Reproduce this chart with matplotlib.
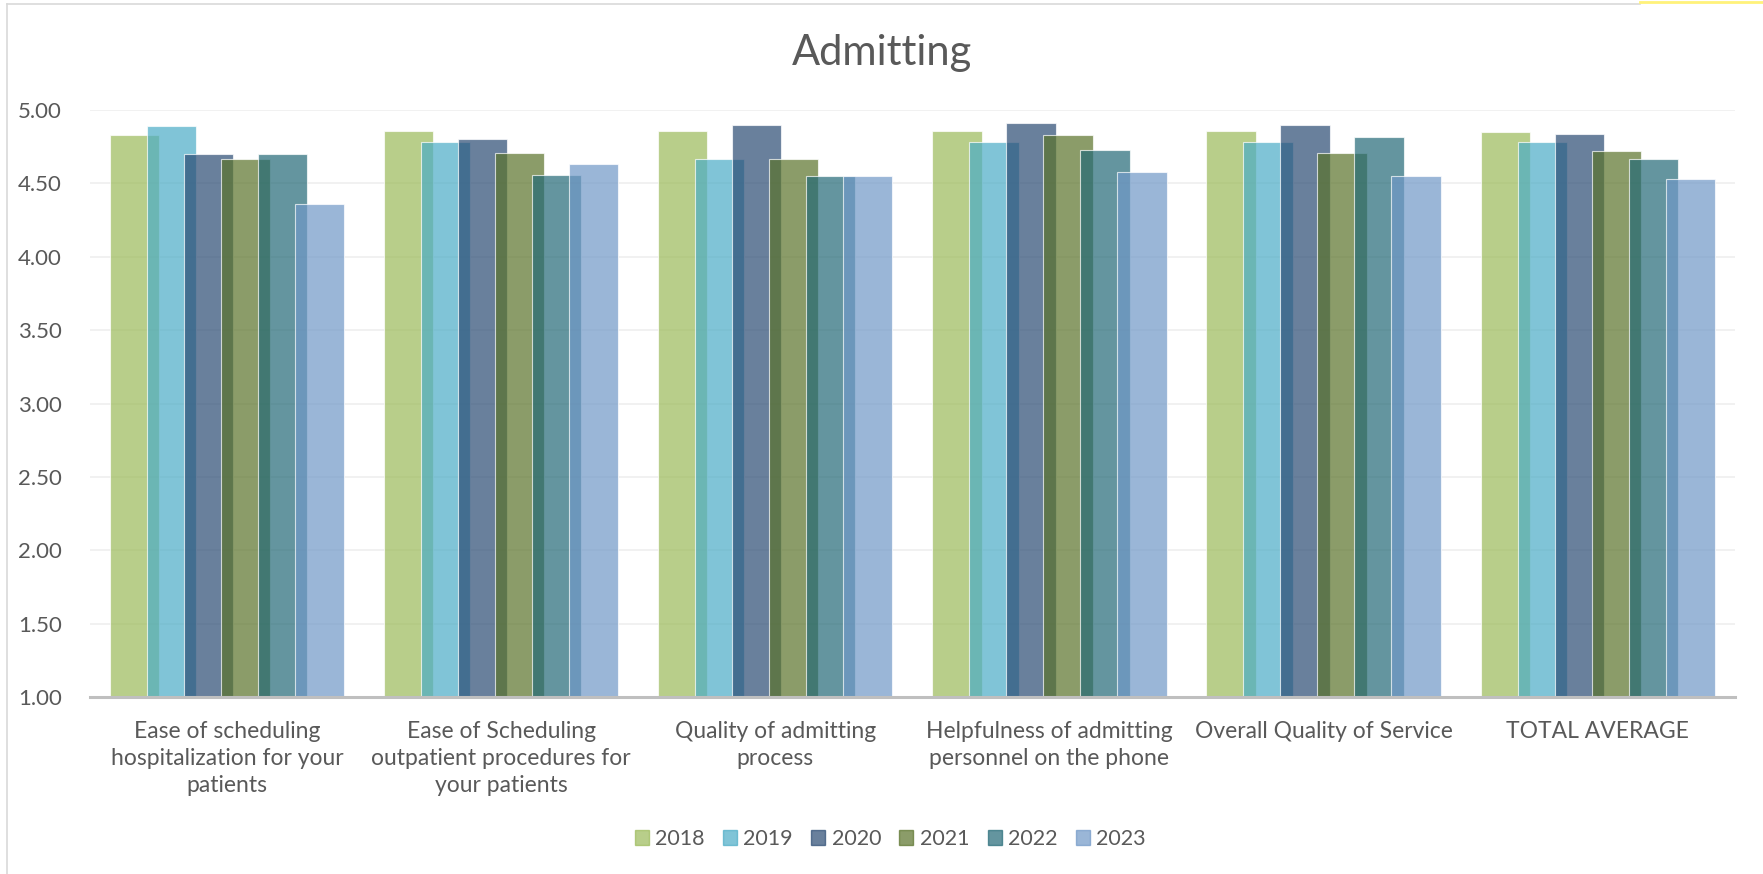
import numpy as np
import matplotlib
matplotlib.use("Agg")
import matplotlib.pyplot as plt
from matplotlib.lines import Line2D

plt.rcParams['font.family'] = ['Lato', 'DejaVu Sans']

categories = [
    "Ease of scheduling\nhospitalization for your\npatients",
    "Ease of Scheduling\noutpatient procedures for\nyour patients",
    "Quality of admitting\nprocess",
    "Helpfulness of admitting\npersonnel on the phone",
    "Overall Quality of Service",
    "TOTAL AVERAGE",
]
years = ["2018", "2019", "2020", "2021", "2022", "2023"]

v2018 = [4.83, 4.86, 4.86, 4.86, 4.86, 4.85]
v2019 = [4.89, 4.78, 4.67, 4.78, 4.78, 4.78]
v2020 = [4.70, 4.80, 4.90, 4.91, 4.90, 4.84]
v2021 = [4.67, 4.71, 4.67, 4.83, 4.71, 4.72]
v2022 = [4.70, 4.56, 4.55, 4.73, 4.82, 4.67]
v2023 = [4.36, 4.63, 4.55, 4.58, 4.55, 4.53]
series = [v2018, v2019, v2020, v2021, v2022, v2023]

colors = ["#9BBA58", "#4BACC6", "#2A4A73", "#5A732A", "#236976", "#7098C7"]
text_col = "#595959"

fig = plt.figure(figsize=(17.63, 8.74), dpi=100)
ax = fig.add_axes([0.051, 0.2025, 0.933, 0.6715])

x = np.arange(len(categories))
width = 0.18
step = 0.135
for i, (vals, c) in enumerate(zip(series, colors)):
    heights = np.array(vals) - 1.0
    ax.bar(x + (i - 2.5) * step, heights, width, bottom=1.0, color=c, alpha=0.7,
           edgecolor=(1, 1, 1, 0.2), linewidth=0.8, label=years[i], zorder=3)

ax.set_ylim(1, 5)
ax.set_xlim(-0.5, len(categories) - 0.5)
ax.set_yticks(np.arange(1, 5.01, 0.5))
ax.set_yticklabels([f"{t:.2f}" for t in np.arange(1, 5.01, 0.5)])
ax.set_xticks(x)
ax.set_xticklabels(categories, linespacing=1.35)
ax.tick_params(axis='both', length=0, colors=text_col, labelsize=16.5)
ax.tick_params(axis='y', labelsize=16, pad=20)
ax.tick_params(axis='x', pad=17)
ax.grid(axis='y', color="#EFEFEF", linewidth=1.2, zorder=0)
for s in ["top", "right", "left"]:
    ax.spines[s].set_visible(False)
ax.spines["bottom"].set_color("#BFBFBF")
ax.spines["bottom"].set_linewidth(2.2)
ax.spines["bottom"].set_zorder(4)

fig.text(0.5, 0.939, "Admitting", ha="center", va="center", fontsize=30, color=text_col)

handles = [plt.Rectangle((0, 0), 1, 1, color=c, alpha=0.7) for c in colors]
fig.legend(handles, years, loc="center", bbox_to_anchor=(0.505, 0.04), ncol=6,
           frameon=False, fontsize=15.5, labelcolor=text_col, handlelength=0.65,
           handleheight=0.65, handletextpad=0.3, columnspacing=0.85)

# chart frame
fig.add_artist(Line2D([0.004, 0.004], [0.0, 0.995], transform=fig.transFigure, color="#D9D9D9", lw=1.2))
fig.add_artist(Line2D([0.004, 0.93], [0.995, 0.995], transform=fig.transFigure, color="#D9D9D9", lw=1.2))
fig.add_artist(Line2D([0.93, 1.0], [0.998, 0.998], transform=fig.transFigure, color="#FFF27A", lw=2))

fig.savefig("out.png", dpi=100)
